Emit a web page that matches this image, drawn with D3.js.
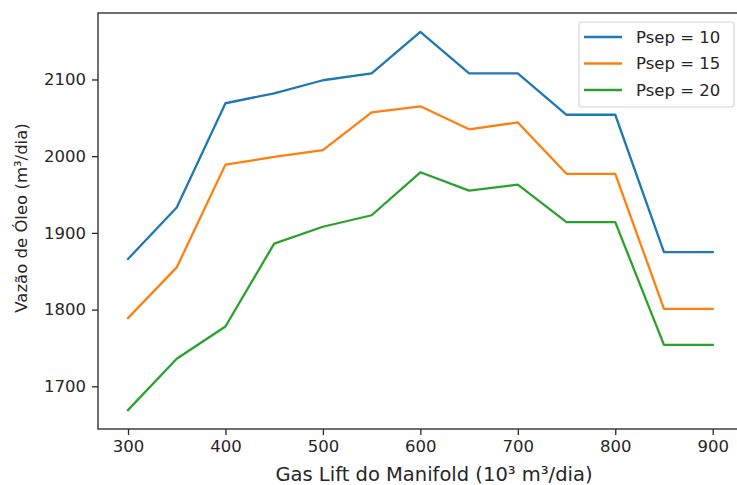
<!DOCTYPE html>
<html>
<head>
<meta charset="utf-8">
<script src="https://cdn.jsdelivr.net/npm/d3@7"></script>
<style>
  html, body { margin: 0; padding: 0; background: #fff; }
  svg { display: block; font-family: "DejaVu Sans", sans-serif; }
</style>
</head>
<body>
<svg id="chart" width="737" height="485"></svg>
<script>
const gasLift = [300, 350, 400, 450, 500, 550, 600, 650, 700, 750, 800, 850, 900];
const psep10 = [1866, 1933, 2069, 2082, 2099, 2108, 2162, 2108, 2108, 2054, 2054, 1875, 1875];
const psep15 = [1789, 1855, 1989, 1999, 2008, 2057, 2065, 2035, 2044, 1977, 1977, 1801, 1801];
const psep20 = [1669, 1736, 1778, 1886, 1908, 1923, 1979, 1955, 1963, 1914, 1914, 1754, 1754];
const seriesNames = ["Psep = 10", "Psep = 15", "Psep = 20"];
const seriesColors = ["#1f77b4", "#ff7f0e", "#2ca02c"];
const xTicks = [300, 400, 500, 600, 700, 800, 900];
const yTicks = [1700, 1800, 1900, 2000, 2100];
const xLabel = "Gas Lift do Manifold (10³ m³/dia)";
const yLabel = "Vazão de Óleo (m³/dia)";

(function () {
const series = [psep10, psep15, psep20].map((vals, i) => ({
  name: seriesNames[i], color: seriesColors[i],
  points: vals.map((v, j) => ({x: gasLift[j], y: v}))
}));

const svg = d3.select("#chart");
const mLeft = 98, mTop = 13, mBottom = 429, mRight = 742;

const x = d3.scaleLinear().domain([270, 930]).range([128 - 30 * 0.9745, 128 + 630 * 0.9745]);
const allY = [].concat(psep10, psep15, psep20);
const yMin = d3.min(allY), yMax = d3.max(allY), pad = (yMax - yMin) * 0.05;
const y = d3.scaleLinear().domain([yMin - pad, yMax + pad]).range([mBottom, mTop]);

const textColor = "#262626";
const fs = 16.5;

// lines
const line = d3.line().x(d => x(d.x)).y(d => y(d.y));
svg.append("g").selectAll("path").data(series).join("path")
  .attr("d", d => line(d.points))
  .attr("fill", "none")
  .attr("stroke", d => d.color)
  .attr("stroke-width", 2.3)
  .attr("stroke-linejoin", "round")
  .attr("stroke-linecap", "square");

// axes
const xAxis = d3.axisBottom(x).tickValues(xTicks).tickSize(6).tickPadding(5).tickFormat(d3.format("d"));
const gx = svg.append("g").attr("transform", `translate(0,${mBottom})`).call(xAxis);
gx.select(".domain").remove();
gx.selectAll(".tick line").attr("stroke", textColor).attr("stroke-width", 1.3);
gx.selectAll(".tick text").attr("fill", textColor).style("font-size", fs + "px").style("font-family", "DejaVu Sans");

const yAxis = d3.axisLeft(y).tickValues(yTicks).tickSize(6).tickPadding(6).tickFormat(d3.format("d"));
const gy = svg.append("g").attr("transform", `translate(${mLeft},0)`).call(yAxis);
gy.select(".domain").remove();
gy.selectAll(".tick line").attr("stroke", textColor).attr("stroke-width", 1.3);
gy.selectAll(".tick text").attr("fill", textColor).style("font-size", fs + "px").style("font-family", "DejaVu Sans");

// spines
svg.append("rect")
  .attr("x", mLeft).attr("y", mTop)
  .attr("width", mRight - mLeft).attr("height", mBottom - mTop)
  .attr("fill", "none").attr("stroke", "#333").attr("stroke-width", 1.4);

// labels
svg.append("text")
  .attr("x", 434).attr("y", 481)
  .attr("text-anchor", "middle")
  .attr("fill", textColor)
  .style("font-size", "19.5px")
  .text(xLabel);

svg.append("text")
  .attr("transform", `translate(27,218) rotate(-90)`)
  .attr("text-anchor", "middle")
  .attr("fill", textColor)
  .style("font-size", fs + "px")
  .text(yLabel);

// legend
const lg = svg.append("g");
lg.append("rect")
  .attr("x", 579).attr("y", 22).attr("width", 155).attr("height", 85)
  .attr("rx", 3).attr("fill", "#fff").attr("fill-opacity", 0.8)
  .attr("stroke", "#d5d5d5").attr("stroke-width", 1.2);
const items = lg.selectAll("g.item").data(series).join("g").attr("class", "item")
  .attr("transform", (d, i) => `translate(0,${37 + i * 26.5})`);
items.append("line")
  .attr("x1", 584).attr("x2", 622).attr("y1", 0).attr("y2", 0)
  .attr("stroke", d => d.color).attr("stroke-width", 2.3);
items.append("text")
  .attr("x", 636).attr("y", 0).attr("dy", "0.35em")
  .attr("fill", textColor)
  .style("font-size", fs + "px")
  .text(d => d.name);
})();
</script>
</body>
</html>
